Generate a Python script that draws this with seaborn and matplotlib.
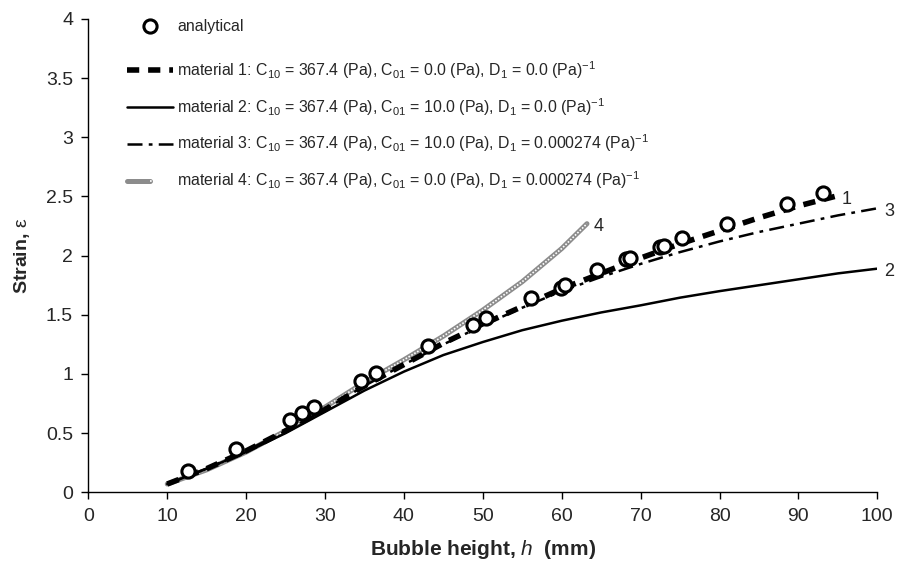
import numpy as np
import pandas as pd
import seaborn as sns
import matplotlib.pyplot as plt
from matplotlib.legend_handler import HandlerTuple

# analytical points
h_ana = [12.6, 18.7, 25.5, 27.1, 28.6, 34.5, 36.5, 43.1, 48.7, 50.4, 56.1, 59.9, 60.4,
         64.5, 68.1, 68.7, 72.4, 73.0, 75.2, 80.9, 88.6, 93.1]
e_ana = [0.18, 0.37, 0.61, 0.67, 0.72, 0.94, 1.01, 1.24, 1.41, 1.47, 1.64, 1.73, 1.75,
         1.88, 1.97, 1.98, 2.07, 2.08, 2.15, 2.27, 2.44, 2.53]

# material curves
h_m1 = [10, 15, 20, 25, 30, 35, 40, 45, 50, 55, 60, 65, 70, 75, 80, 85, 90, 94.6]
e_m1 = [0.07, 0.2, 0.35, 0.52, 0.7, 0.9, 1.08, 1.26, 1.42, 1.57, 1.72, 1.85, 1.98, 2.1, 2.21, 2.32, 2.42, 2.5]

h_m2 = [10, 15, 20, 25, 30, 35, 40, 45, 50, 55, 60, 65, 70, 75, 80, 85, 90, 95, 100]
e_m2 = [0.07, 0.2, 0.34, 0.5, 0.68, 0.86, 1.02, 1.16, 1.27, 1.37, 1.45, 1.52, 1.58, 1.645, 1.70, 1.75, 1.80, 1.85, 1.89]

h_m3 = [10, 15, 20, 25, 30, 35, 40, 45, 50, 55, 60, 65, 70, 75, 80, 85, 90, 95, 100]
e_m3 = [0.07, 0.2, 0.35, 0.52, 0.7, 0.9, 1.08, 1.25, 1.41, 1.56, 1.70, 1.82, 1.93, 2.03, 2.12, 2.2, 2.27, 2.34, 2.40]

h_m4 = [10, 15, 20, 25, 30, 35, 40, 45, 50, 55, 60, 63.2]
e_m4 = [0.07, 0.19, 0.34, 0.52, 0.72, 0.93, 1.12, 1.32, 1.54, 1.78, 2.06, 2.27]

labels = [
    'analytical',
    r'material 1: C$_{10}$ = 367.4 (Pa), C$_{01}$ = 0.0 (Pa), D$_1$ = 0.0 (Pa)$^{-1}$',
    r'material 2: C$_{10}$ = 367.4 (Pa), C$_{01}$ = 10.0 (Pa), D$_1$ = 0.0 (Pa)$^{-1}$',
    r'material 3: C$_{10}$ = 367.4 (Pa), C$_{01}$ = 10.0 (Pa), D$_1$ = 0.000274 (Pa)$^{-1}$',
    r'material 4: C$_{10}$ = 367.4 (Pa), C$_{01}$ = 0.0 (Pa), D$_1$ = 0.000274 (Pa)$^{-1}$',
]

sns.set_style('ticks')
plt.rcParams['font.family'] = ['Liberation Sans', 'DejaVu Sans']
plt.rcParams['mathtext.fontset'] = 'custom'
plt.rcParams['mathtext.rm'] = 'Liberation Sans'
plt.rcParams['mathtext.it'] = 'Liberation Sans:italic'
plt.rcParams['mathtext.bf'] = 'Liberation Sans:bold'

fig = plt.figure(figsize=(9.11, 5.70), dpi=100)
ax = fig.add_axes([0.097, 0.1363, 0.866, 0.8304])

# material 4 : grey hatched line (grey base + white dots on top)
sns.lineplot(x=h_m4, y=e_m4, ax=ax, color='#8c8c8c', lw=3.6, zorder=2)
sns.lineplot(x=h_m4, y=e_m4, ax=ax, color='white', lw=1.2, ls=(0, (1, 1)), zorder=2.1)
l4a, l4b = ax.lines[-2], ax.lines[-1]

sns.lineplot(x=h_m2, y=e_m2, ax=ax, color='black', lw=1.8, zorder=3)
l2 = ax.lines[-1]
sns.lineplot(x=h_m3, y=e_m3, ax=ax, color='black', lw=1.8, zorder=3)
l3 = ax.lines[-1]
l3.set_dashes((6, 2.5, 1.5, 2.5))
sns.lineplot(x=h_m1, y=e_m1, ax=ax, color='black', lw=4, zorder=4)
l1 = ax.lines[-1]
l1.set_dashes((2.2, 1.6))

sns.scatterplot(x=h_ana, y=e_ana, ax=ax, s=90, facecolor='white', edgecolor='black',
                linewidth=2.2, zorder=5)
pts = ax.collections[-1]

# curve numbers
for hx, ey, t in [(h_m1[-1], e_m1[-1], '1'), (h_m2[-1], e_m2[-1], '2'),
                  (h_m3[-1], e_m3[-1], '3'), (h_m4[-1], e_m4[-1], '4')]:
    ax.annotate(t, (hx, ey), xytext=(5, -2), textcoords='offset points',
                fontsize=13, ha='left', va='center', annotation_clip=False)

ax.set_xlim(0, 100)
ax.set_ylim(0, 4)
ax.set_xticks(np.arange(0, 101, 10))
ax.set_yticks(np.arange(0, 4.01, 0.5))
ax.set_yticklabels(['0', '0.5', '1', '1.5', '2', '2.5', '3', '3.5', '4'])
ax.tick_params(labelsize=14, length=5, width=1, direction='out', color='black', pad=6)
for s in ['top', 'right']:
    ax.spines[s].set_visible(False)
for s in ['left', 'bottom']:
    ax.spines[s].set_color('black')
    ax.spines[s].set_linewidth(1)

ax.set_xlabel(r'Bubble height, $\mathbf{\mathit{h}}$  (mm)', fontsize=15, fontweight='bold', labelpad=10)
ax.set_ylabel(r'Strain, $\mathrm{\varepsilon}$', fontsize=14, fontweight='bold', labelpad=10)

# legends: analytical on its own row at the top, materials below
leg0 = ax.legend([pts], labels[:1], loc='center left', bbox_to_anchor=(0.049, 0.985),
                 frameon=False, fontsize=11.4, handlelength=2.9, handletextpad=0.25,
                 borderpad=0, borderaxespad=0)
ax.add_artist(leg0)
ax.legend([l1, l2, l3, (l4a, l4b)], labels[1:], loc='upper left',
          bbox_to_anchor=(0.049, 0.915), frameon=False, fontsize=11.4,
          handlelength=2.9, handletextpad=0.25, labelspacing=0.95,
          borderpad=0, borderaxespad=0,
          handler_map={tuple: HandlerTuple(ndivide=None, pad=0)})

fig.savefig('out.png', dpi=100)
